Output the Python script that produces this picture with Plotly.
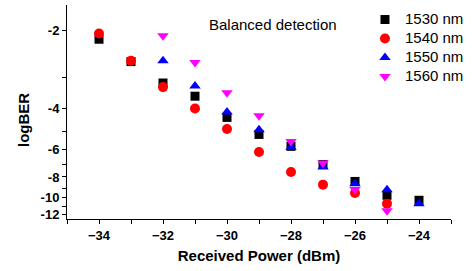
import math
import plotly.graph_objects as go

# ---- data (logBER values) ----
power_1530 = [-34, -33, -32, -31, -30, -29, -28, -27, -26, -25, -24]
ber_1530 = [-2.15, -2.60, -3.15, -3.56, -4.36, -5.16, -5.82, -7.02, -8.39, -9.73, -10.27]

power_1540 = [-34, -33, -32, -31, -30, -29, -28, -27, -26, -25]
ber_1540 = [-2.05, -2.58, -3.27, -4.00, -4.89, -6.17, -7.59, -8.68, -9.50, -10.65]

power_1550 = [-32, -31, -30, -29, -28, -27, -26, -25, -24]
ber_1550 = [-2.58, -3.24, -4.14, -4.92, -5.88, -7.21, -8.60, -9.18, -10.65]

power_1560 = [-32, -31, -30, -29, -28, -27, -26, -25]
ber_1560 = [-2.09, -2.62, -3.45, -4.29, -5.54, -6.91, -9.15, -11.50]

y_tick_values = [-2, -3, -4, -5, -6, -7, -8, -9, -10, -11, -12]
y_tick_labels = ["-2", "", "-4", "", "-6", "", "-8", "", "-10", "", "-12"]


# BER axis scale: 20*log10(Q) where BER = 0.5*erfc(Q/sqrt(2))
def ber_scale(log_ber):
    ber = 10.0 ** log_ber
    lo, hi = 0.0, 30.0
    for _ in range(200):
        mid = 0.5 * (lo + hi)
        if 0.5 * math.erfc(mid / math.sqrt(2)) > ber:
            lo = mid
        else:
            hi = mid
    return 20 * math.log10(0.5 * (lo + hi))


def tr(vals):
    return [ber_scale(v) for v in vals]


FONT = "Arial, Liberation Sans, sans-serif"

fig = go.Figure()
series = [
    ("1530 nm", power_1530, ber_1530, "square", "#000000", 9),
    ("1540 nm", power_1540, ber_1540, "circle", "#FF0000", 10),
    ("1550 nm", power_1550, ber_1550, "triangle-up", "#0000FF", 10),
    ("1560 nm", power_1560, ber_1560, "triangle-down", "#FF00FF", 10),
]
for name, xs, ys, sym, col, sz in series:
    fig.add_trace(go.Scatter(
        x=xs, y=tr(ys), mode="markers",
        name='<span style="font-size:15px">%s</span>' % name,
        marker=dict(symbol=sym, color=col, size=sz, line=dict(width=0)),
    ))

fig.update_layout(
    width=474, height=271,
    margin=dict(l=67, r=23, t=5, b=52),
    paper_bgcolor="white", plot_bgcolor="white",
    font=dict(family=FONT, color="black"),
    showlegend=True,
    legend=dict(
        x=0.776, y=1.0, xanchor="left", yanchor="top",
        bgcolor="rgba(0,0,0,0)", font=dict(size=12, family=FONT),
        tracegroupgap=0, itemwidth=30,
    ),
    annotations=[
        dict(
            text="Balanced detection", x=0.364, y=0.907, xref="paper", yref="paper",
            xanchor="left", yanchor="middle", showarrow=False,
            font=dict(size=15, family=FONT, color="black"),
        ),
        dict(
            text="<b>logBER</b>", x=-0.1146, y=0.4626, xref="paper", yref="paper",
            xanchor="center", yanchor="middle", showarrow=False, textangle=-90,
            font=dict(size=15, family=FONT, color="black"),
        ),
    ],
)

fig.update_xaxes(
    range=[-35, -23], tickvals=[-34, -32, -30, -28, -26, -24],
    ticks="outside", ticklen=4, tickwidth=1, tickcolor="black",
    minor=dict(dtick=1, ticks="outside", ticklen=4, tickcolor="black"),
    showline=True, linecolor="black", linewidth=1, mirror=False,
    showgrid=False, zeroline=False, automargin=False,
    tickfont=dict(size=13, family=FONT, color="black", weight="bold"),
    title=dict(text="<b>Received Power (dBm)</b>", font=dict(size=15, family=FONT), standoff=8),
)
fig.update_yaxes(
    range=[ber_scale(-12.6), ber_scale(-1.64)],
    tickvals=tr(y_tick_values), ticktext=y_tick_labels,
    ticks="outside", ticklen=4, tickwidth=1, tickcolor="black",
    showline=True, linecolor="black", linewidth=1, mirror=False,
    showgrid=False, zeroline=False, automargin=False,
    tickfont=dict(size=13, family=FONT, color="black", weight="bold"),
)

fig.write_html(
    "out.html",
    config={"displayModeBar": False},
    post_script="document.body.style.margin='0';document.body.style.padding='0';",
)
